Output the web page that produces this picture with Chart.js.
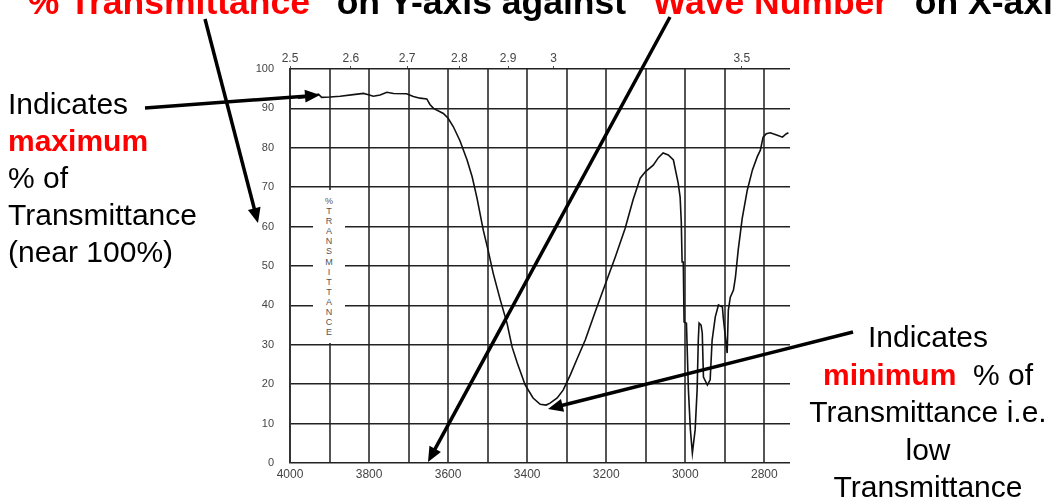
<!DOCTYPE html>
<html>
<head>
<meta charset="utf-8">
<script src="https://cdn.jsdelivr.net/npm/chart.js@4.4.1/dist/chart.umd.min.js"></script>
<style>
  html, body { margin: 0; padding: 0; background: #fff; }
  #stage { position: relative; width: 1054px; height: 501px; overflow: hidden; font-family: "Liberation Sans", Arial, sans-serif; }
  #chart { position: absolute; left: 0; top: 0; }
  .title { position: absolute; left: 11px; top: -15px; font-weight: bold; font-size: 35.5px; line-height: 34px; white-space: nowrap; color: #000; }
  .red { color: #f00; font-weight: bold; }
  .note { position: absolute; font-size: 30px; line-height: 37px; color: #000; white-space: nowrap; }
  #noteMax { left: 8px; top: 85px; }
  #noteMin { left: 778px; top: 318px; width: 300px; text-align: center; line-height: 37.5px; }
  #ylab { position: absolute; left: 313px; top: 190px; width: 32px; height: 153px; background: #fff;
          font-size: 9px; line-height: 10.1px; color: #555; text-align: center; padding-top: 6px; box-sizing: border-box; }
  #arrows { position: absolute; left: 0; top: 0; }
</style>
</head>
<body>
<div id="stage">
  <canvas id="chart" width="1054" height="501"></canvas>
  <div class="title">"<span class="red">% Transmittance</span>" on Y-axis against "<span class="red">Wave Number</span>" on X-axis</div>
  <div id="ylab">%<br>T<br>R<br>A<br>N<br>S<br>M<br>I<br>T<br>T<br>A<br>N<br>C<br>E</div>
  <div class="note" id="noteMax">Indicates<br><span class="red">maximum</span><br>% of<br>Transmittance<br>(near 100%)</div>
  <div class="note" id="noteMin">Indicates<br><span class="red">minimum</span>&nbsp;&nbsp;% of<br>Transmittance i.e.<br>low<br>Transmittance</div>
  <svg id="arrows" width="1054" height="501"></svg>
</div>
<script>
// IR spectrum
const wavenumbers = [
  3980, 3958, 3928, 3920, 3899, 3873, 3840, 3814, 3806, 3789, 3772, 3755, 3738, 3705, 3688, 3671,
  3654, 3646, 3637, 3612, 3600, 3587, 3570, 3552, 3539, 3527, 3511, 3499, 3486, 3468, 3451, 3438,
  3425, 3405, 3385, 3367, 3352, 3342, 3324, 3309, 3291, 3273, 3253, 3228, 3203, 3177, 3152, 3132,
  3114, 3101, 3081, 3068, 3056, 3043, 3030, 3018, 3013, 3010, 3008, 3005, 3003, 2997, 2992, 2987,
  2982, 2975, 2970, 2967, 2965, 2960, 2957, 2954, 2944, 2937, 2932, 2924, 2916, 2906, 2904, 2894,
  2891, 2886, 2878, 2873, 2866, 2856, 2843, 2830, 2818, 2810, 2803, 2795, 2785, 2767, 2754, 2745, 2739
];
const transmittance = [
  92.6, 92.8, 93.6, 92.8, 92.9, 93.1, 93.5, 93.8, 93.6, 93.1, 93.4, 94.1, 93.8, 93.7, 93.0, 92.6,
  92.4, 91.0, 90.0, 88.7, 87.5, 85.4, 81.8, 76.9, 72.6, 67.3, 59.1, 54.1, 48.2, 41.4, 35.5, 29.4,
  25.4, 19.8, 16.5, 14.9, 14.7, 15.2, 16.5, 18.5, 22.3, 26.6, 31.2, 38.3, 45.2, 52.3, 59.6, 66.8,
  72.3, 73.9, 75.6, 77.5, 78.7, 78.2, 76.9, 71.1, 67.5, 61.0, 51.0, 51.0, 35.8, 35.5, 18.5, 8.4,
  2.5, 8.4, 18.5, 31.2, 35.5, 35.0, 33.0, 21.8, 19.8, 21.1, 31.2, 37.1, 40.1, 39.6, 37.1, 27.9,
  38.8, 42.1, 43.9, 47.2, 54.1, 62.0, 69.3, 74.4, 77.7, 79.4, 82.7, 83.6, 83.8, 83.2, 82.7, 83.5, 83.8
];

// axis ticks
const waveTicks = [4000, 3900, 3800, 3700, 3600, 3500, 3400, 3300, 3200, 3100, 3000, 2900, 2800];
const transTicks = [0, 10, 20, 30, 40, 50, 60, 70, 80, 90, 100];
const wavelengths = [2.5, 2.6, 2.7, 2.8, 2.9, 3, 3.5];
const wavelengthLabels = ['2.5', '2.6', '2.7', '2.8', '2.9', '3', '3.5'];

const X_MIN = 2735, X_MAX = 4000;
const tickFont = { family: '"Liberation Sans", Arial, sans-serif', size: 11 };

new Chart(document.getElementById('chart'), {
  type: 'line',
  data: {
    datasets: [{
      data: wavenumbers.map((w, i) => ({ x: w, y: transmittance[i] })),
      borderColor: '#111',
      borderWidth: 1.6,
      pointRadius: 0,
      tension: 0,
      fill: false
    }]
  },
  options: {
    responsive: false,
    devicePixelRatio: 1,
    animation: false,
    layout: { padding: { left: 230, right: 264, top: 44, bottom: 13 } },
    plugins: { legend: { display: false }, tooltip: { enabled: false } },
    scales: {
      x: {
        type: 'linear', position: 'bottom', reverse: true, min: X_MIN, max: X_MAX,
        afterBuildTicks: axis => { axis.ticks = waveTicks.map(v => ({ value: v })); },
        afterFit: axis => { axis.height = 25; },
        grid: { color: '#555', lineWidth: 2, drawTicks: false },
        border: { display: false },
        ticks: {
          autoSkip: false, maxRotation: 0, padding: 4, color: '#444',
          font: { ...tickFont, size: 12 },
          callback: v => (v % 200 === 0 ? String(v) : '')
        }
      },
      xTop: {
        type: 'linear', position: 'top', reverse: true, min: X_MIN, max: X_MAX,
        afterBuildTicks: axis => { axis.ticks = wavelengths.map(l => ({ value: 10000 / l })); },
        afterFit: axis => { axis.height = 25; },
        grid: { drawOnChartArea: false, drawTicks: true, tickLength: 3, color: '#555', lineWidth: 1 },
        border: { display: false },
        ticks: {
          autoSkip: false, maxRotation: 0, padding: 0, color: '#444',
          font: { ...tickFont, size: 12 },
          callback: (v, i) => wavelengthLabels[i]
        }
      },
      y: {
        min: 0, max: 100,
        afterBuildTicks: axis => { axis.ticks = transTicks.map(v => ({ value: v })); },
        afterFit: axis => { axis.width = 60; },
        grid: { color: '#222', lineWidth: 1.5, drawTicks: false },
        border: { display: true, color: '#333', width: 2 },
        ticks: { padding: 16, color: '#444', font: tickFont }
      }
    }
  }
});

// annotation arrows
const svg = document.getElementById('arrows');
const NS = 'http://www.w3.org/2000/svg';
function arrow(x1, y1, x2, y2) {
  const dx = x2 - x1, dy = y2 - y1, len = Math.hypot(dx, dy);
  const ux = dx / len, uy = dy / len, hl = 15, hw = 6.5;
  const bx = x2 - ux * hl, by = y2 - uy * hl;
  const line = document.createElementNS(NS, 'line');
  line.setAttribute('x1', x1); line.setAttribute('y1', y1);
  line.setAttribute('x2', bx + ux * 3); line.setAttribute('y2', by + uy * 3);
  line.setAttribute('stroke', '#000'); line.setAttribute('stroke-width', 3.5);
  svg.appendChild(line);
  const head = document.createElementNS(NS, 'polygon');
  head.setAttribute('points', `${x2},${y2} ${bx - uy * hw},${by + ux * hw} ${bx + uy * hw},${by - ux * hw}`);
  head.setAttribute('fill', '#000');
  svg.appendChild(head);
}
arrow(205, 19, 258, 223);
arrow(670, 17, 428, 462);
arrow(145, 108, 320, 95);
arrow(853, 332, 548, 409);
</script>
</body>
</html>
